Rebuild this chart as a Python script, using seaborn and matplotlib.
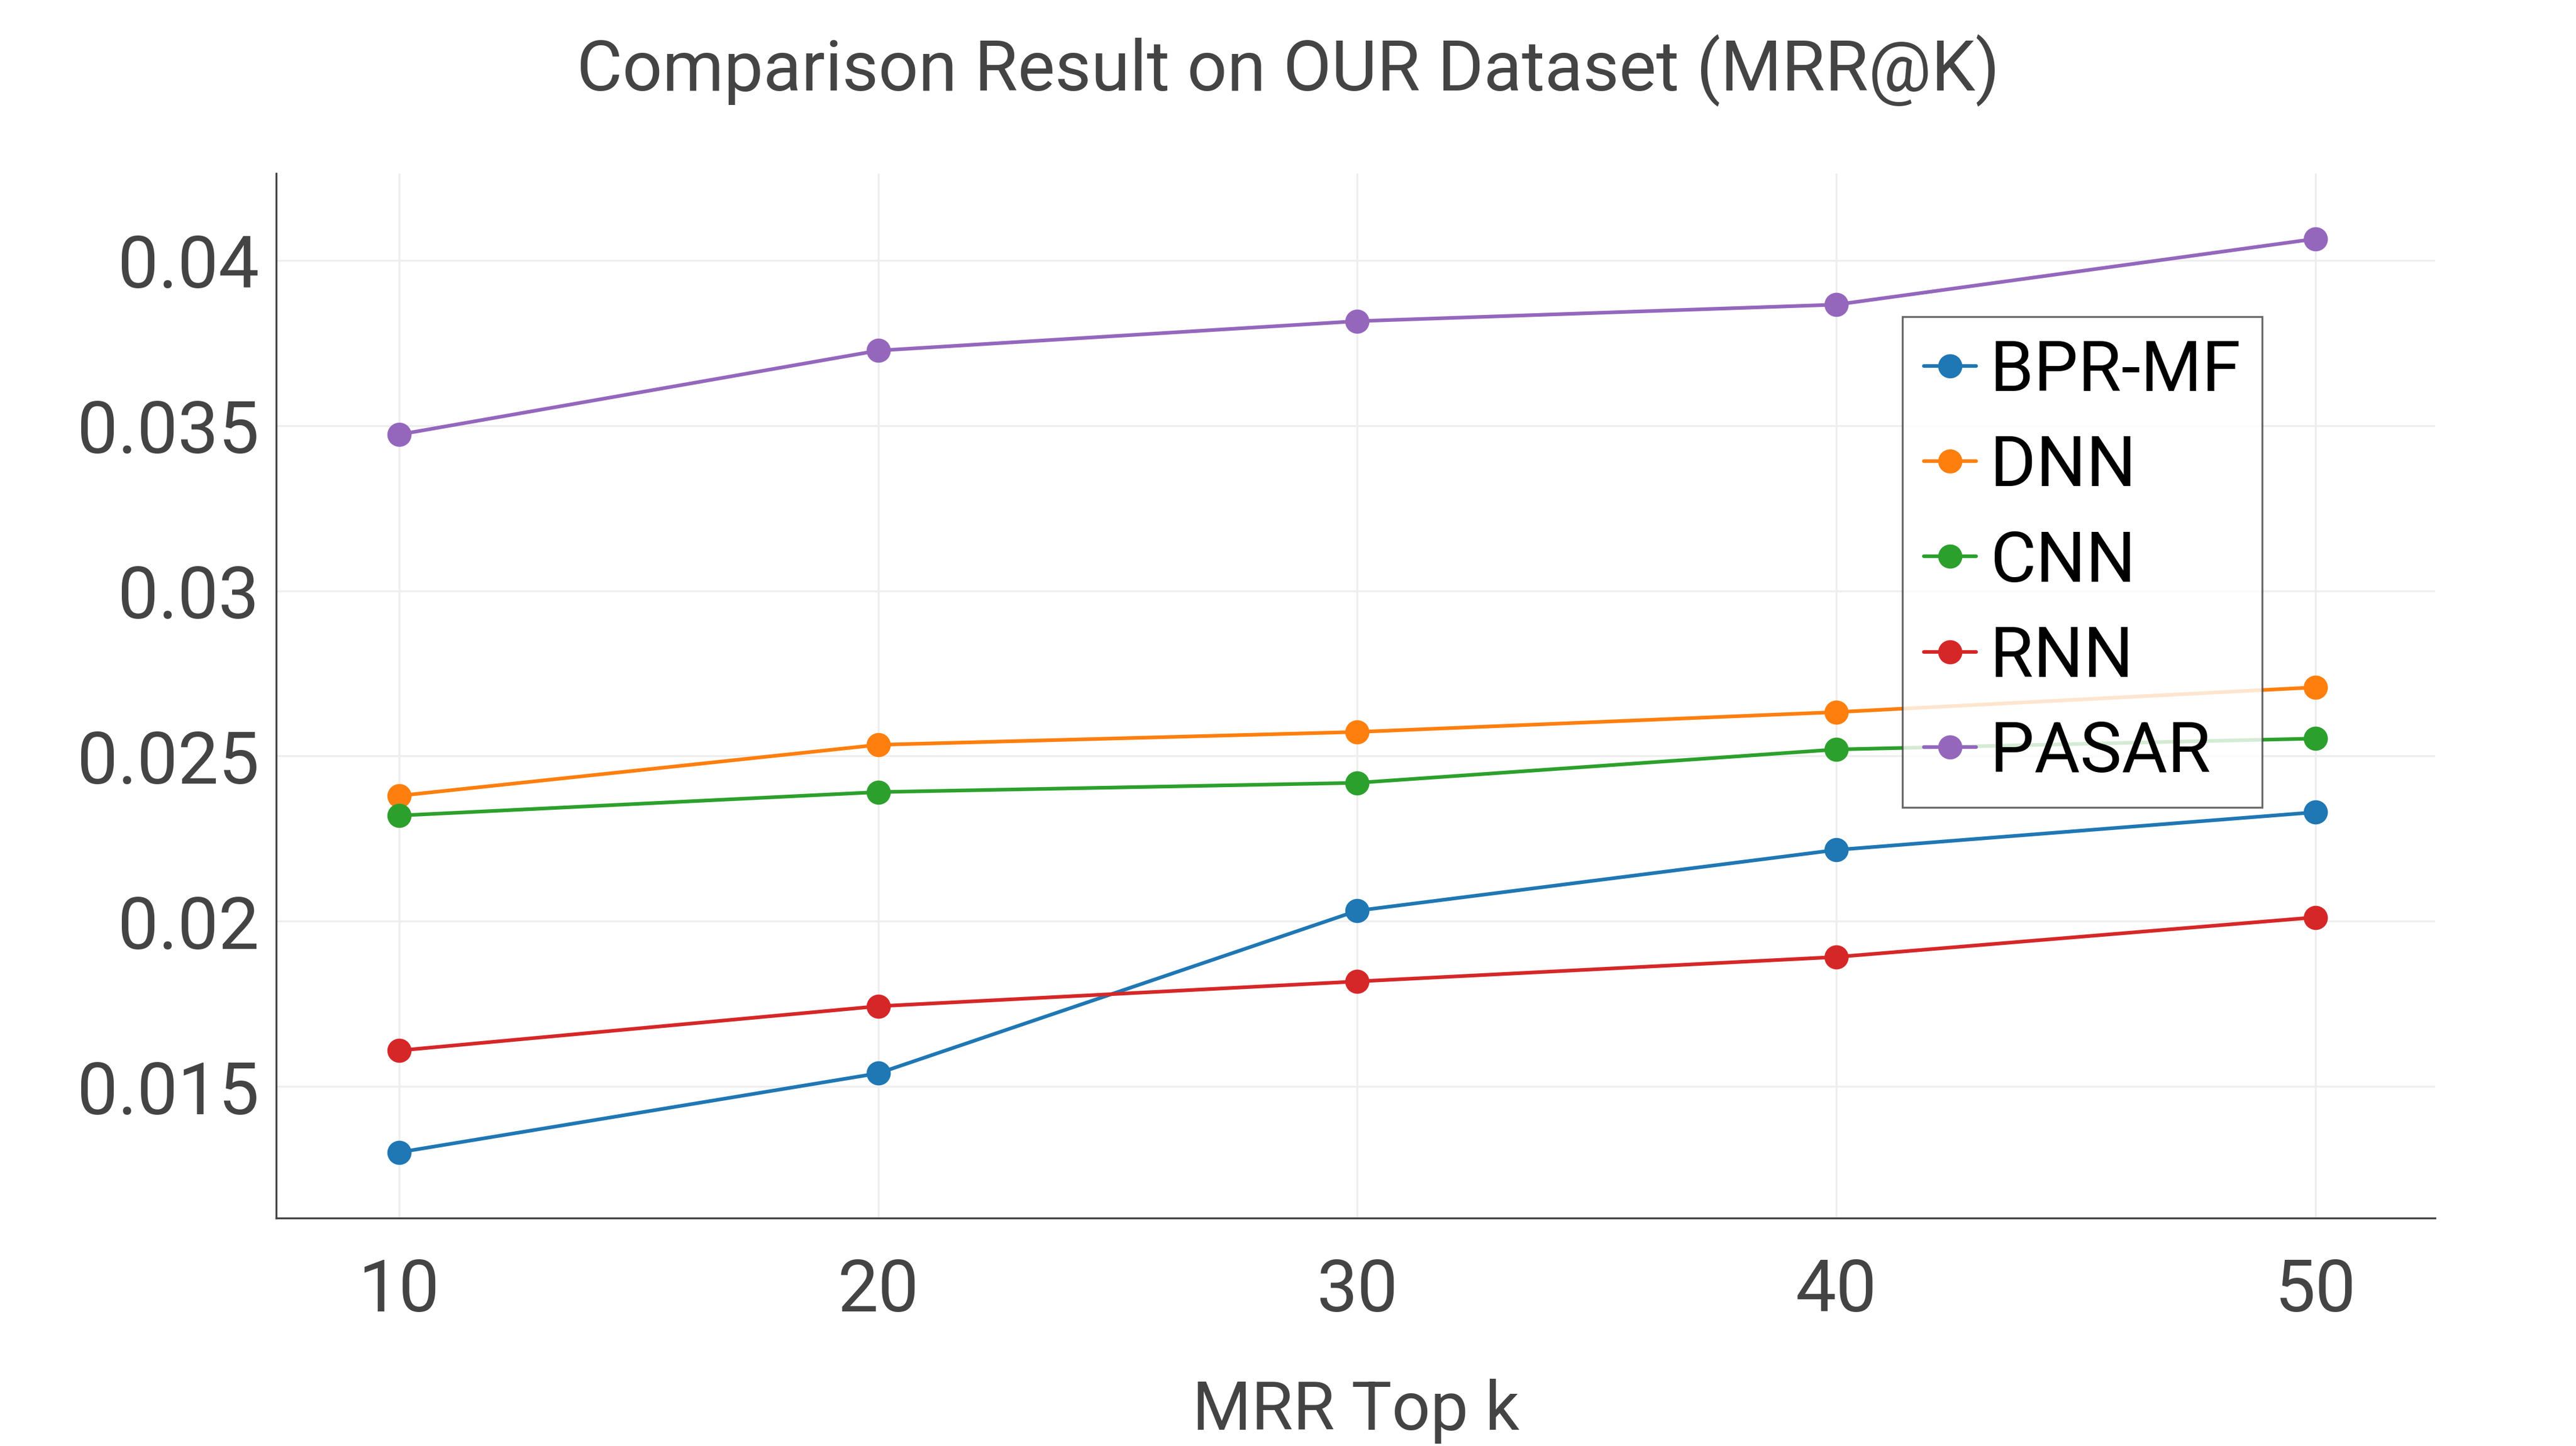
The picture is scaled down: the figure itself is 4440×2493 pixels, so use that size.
import pandas as pd
import numpy as np
import seaborn as sns
import matplotlib.pyplot as plt
from matplotlib.ticker import FuncFormatter

top_k = [10, 20, 30, 40, 50]
bpr_mf = [0.01301, 0.01540, 0.02032, 0.02216, 0.02330]
dnn = [0.02380, 0.02534, 0.02573, 0.02633, 0.02708]
cnn = [0.02320, 0.02391, 0.02419, 0.02520, 0.02553]
rnn = [0.01609, 0.01743, 0.01818, 0.01892, 0.02012]
pasar = [0.03473, 0.03727, 0.03816, 0.03866, 0.04065]
methods = ["BPR-MF", "DNN", "CNN", "RNN", "PASAR"]

# long format for seaborn
series = {"BPR-MF": bpr_mf, "DNN": dnn, "CNN": cnn, "RNN": rnn, "PASAR": pasar}
rows = []
for name in methods:
	for k, v in zip(top_k, series[name]):
		rows.append({"k": k, "mrr": v, "method": name})
df = pd.DataFrame(rows)

sns.set_style("white")
plt.rcParams['font.family'] = ['Roboto', 'DejaVu Sans']

fig = plt.figure(figsize=(14.8, 8.3133), dpi=300)
ax = fig.add_axes([476/4440, 1-2101/2494, (4197-476)/4440, (2101-300)/2494])

sns.lineplot(data=df, x="k", y="mrr", hue="method", hue_order=methods,
	palette=sns.color_palette("tab10", 5), marker="o", markersize=10,
	markeredgewidth=0, linewidth=1.5, ax=ax)

ax.set_xlim(7.43, 52.5)
ax.set_ylim(0.01102, 0.04263)
ax.set_xticks(top_k)
ax.set_yticks([0.015, 0.02, 0.025, 0.03, 0.035, 0.04])
ax.yaxis.set_major_formatter(FuncFormatter(lambda v, p: "%g" % round(v, 4)))
ax.grid(True, color="#eeeeee", linewidth=0.8)
ax.set_axisbelow(True)

for s in ["top", "right"]:
	ax.spines[s].set_visible(False)
for s in ["left", "bottom"]:
	ax.spines[s].set_color("#444444")
	ax.spines[s].set_linewidth(0.8)

ax.tick_params(axis="x", colors="#444444", labelsize=30, length=4, width=0.8, direction="out", pad=12)
ax.tick_params(axis="y", colors="#444444", labelsize=30, length=0, pad=7)
ax.set_xlabel("MRR Top k", fontsize=28, color="#444444", labelpad=22)
ax.set_ylabel("")
fig.suptitle("Comparison Result on OUR Dataset (MRR@K)", fontsize=29, color="#444444", y=0.976)

leg = ax.legend(loc="upper left", bbox_to_anchor=(0.7534, 0.863), fontsize=29,
	frameon=True, fancybox=False, borderpad=0.3, labelspacing=0.4,
	handlelength=0.75, handletextpad=0.2, borderaxespad=0, labelcolor="black")
leg.get_frame().set_edgecolor("#444444")
leg.get_frame().set_linewidth(0.8)
for line in leg.get_lines():
	line.set_linewidth(1.5)
	line.set_markersize(10)

fig.savefig("out.png", dpi=300)
